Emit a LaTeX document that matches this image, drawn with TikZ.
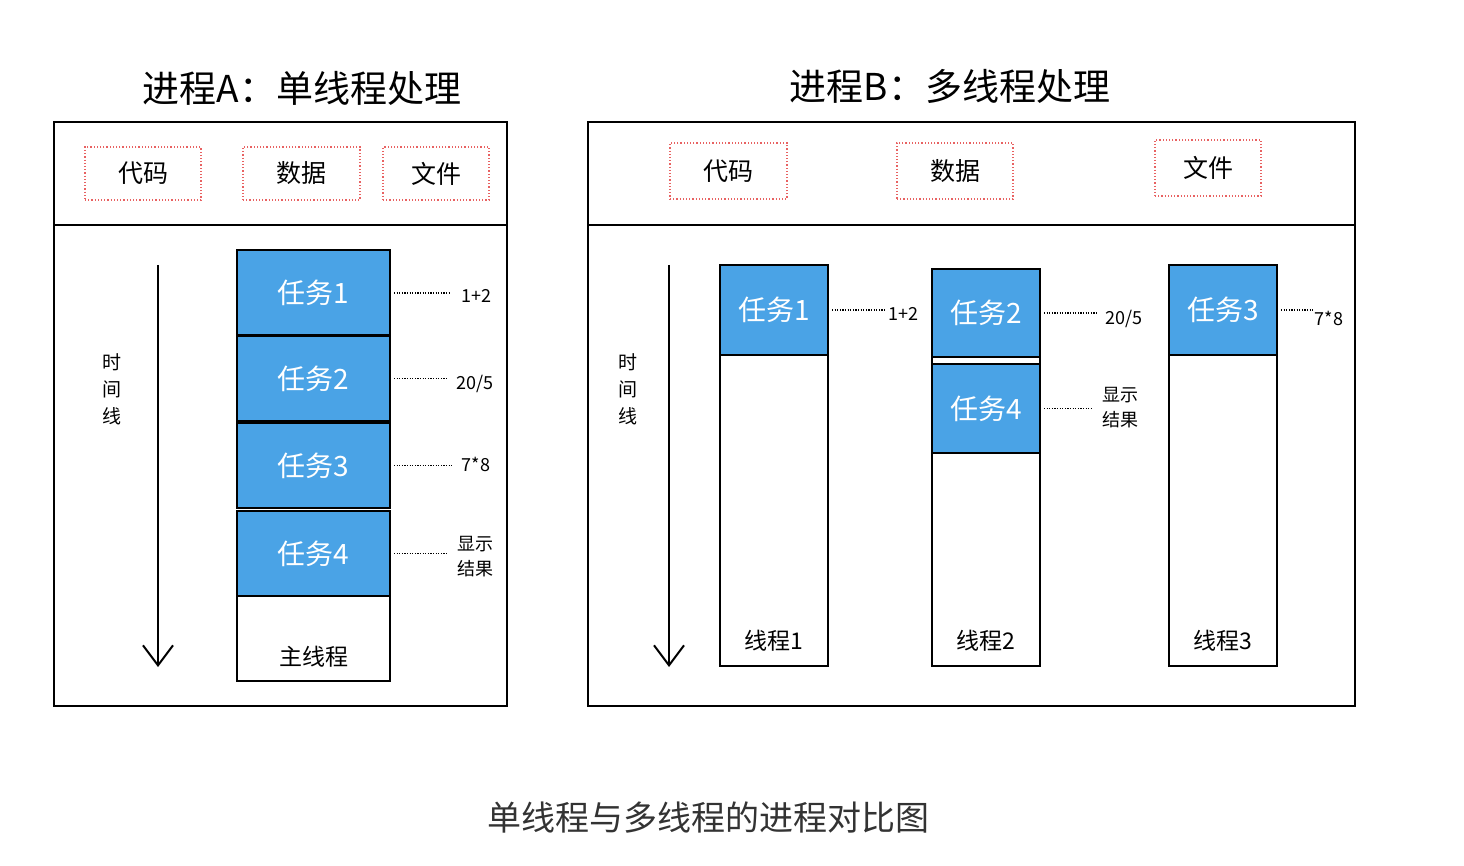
\documentclass[tikz,border=0pt]{standalone}
\usepackage{fontspec}
\setmainfont{Noto Sans CJK SC}
\usetikzlibrary{arrows.meta,positioning,calc}
\definecolor{taskblue}{RGB}{74,163,230}
\definecolor{resred}{RGB}{232,98,98}
\definecolor{captiongray}{RGB}{51,51,51}

\begin{document}
\begin{tikzpicture}[x=1pt,y=-1pt,
  frame/.style={draw,line width=2.5pt},
  res/.style={draw=resred,dotted,line width=1.2pt,inner sep=0pt,minimum height=53pt,font=\fontsize{25}{28}\selectfont},
  task/.style={draw,line width=2pt,fill=taskblue,text=white,inner sep=0pt,minimum width=153pt,minimum height=85pt,font=\fontsize{28}{30}\selectfont},
  thread/.style={draw,line width=2pt,fill=white,inner sep=0pt,minimum width=108pt},
  tlabel/.style={font=\fontsize{23}{26}\selectfont},
  note/.style={font=\fontsize{18}{25}\selectfont,align=center,inner sep=0pt},
  leader/.style={line width=1.5pt,dash pattern=on 1.2pt off 1.4pt,shorten <=3pt,shorten >=#1},
  leader/.default=8pt,
  timeline/.style={line width=2.5pt,-{Straight Barb[length=20pt,width=30pt,line width=2pt]}}]
  \useasboundingbox (0,0) rectangle (1464,866);

  % process A
  \node[font=\fontsize{37}{40}\selectfont] (titlea) at (302,88) {进程A：单线程处理};
  \draw[frame] (54,122) rectangle (507,706);
  \draw[frame] (54,225) -- (507,225);
  \node[res,minimum width=116pt] (codea) at (143,173.5) {代码};
  \node[res,minimum width=117pt] (dataa) at (301.5,173.5) {数据};
  \node[res,minimum width=106pt] (filea) at (436,173.5) {文件};

  \node[note,font=\fontsize{19}{27}\selectfont] (timea) at (112,389) {时\\间\\线};
  \coordinate (ta0) at (158,265);
  \coordinate (ta1) at (158,667);
  \draw[timeline] (ta0) -- (ta1);

  \foreach \i/\y in {1/293,2/378.5,3/465.5,4/553.5}
    \node[task] (a\i) at (313.5,\y) {任务\i};
  \node[task,fill=white] (amain) at (313.5,638.5) {};
  \node[tlabel] (mainlbl) at (313.5,657) {主线程};

  \node[note] (la1) at (476,296) {1+2};
  \node[note] (la2) at (475,384) {20/5};
  \node[note] (la3) at (476,464) {7*8};
  \node[note] (la4) at (475,557) {显示\\结果};
  \draw[leader=10pt] (a1.east) -- (a1.east -| la1.west);
  \draw[leader=8pt] (a2.east) -- (a2.east -| la2.west);
  \draw[leader=10pt] (a3.east) -- (a3.east -| la3.west);
  \draw[leader=10pt] (a4.east) -- (a4.east -| la4.west);

  % process B
  \node[font=\fontsize{37}{40}\selectfont] (titleb) at (950,86) {进程B：多线程处理};
  \draw[frame] (588,122) rectangle (1355,706);
  \draw[frame] (588,225) -- (1355,225);
  \node[res,minimum width=117pt,minimum height=56pt] (codeb) at (728.5,171) {代码};
  \node[res,minimum width=116pt,minimum height=56pt] (datab) at (955,171) {数据};
  \node[res,minimum width=106pt,minimum height=56pt] (fileb) at (1208,168) {文件};

  \node[note,font=\fontsize{19}{27}\selectfont] (timeb) at (628,389) {时\\间\\线};
  \coordinate (tb0) at (669,265);
  \coordinate (tb1) at (669,667);
  \draw[timeline] (tb0) -- (tb1);

  \node[thread,minimum height=401pt] (th1) at (774,465.5) {};
  \node[thread,minimum height=397pt] (th2) at (986,467.5) {};
  \node[thread,minimum height=401pt] (th3) at (1223,465.5) {};
  \node[task,minimum width=108pt,minimum height=90pt,anchor=north] (b1) at (th1.north) {任务1};
  \node[task,minimum width=108pt,minimum height=88pt,anchor=north] (b2) at (th2.north) {任务2};
  \node[task,minimum width=108pt,minimum height=89pt,below=5pt of b2] (b4) {任务4};
  \node[task,minimum width=108pt,minimum height=90pt,anchor=north] (b3) at (th3.north) {任务3};
  \node[tlabel] (n1) at (774,641) {线程1};
  \node[tlabel] (n2) at (986,641) {线程2};
  \node[tlabel] (n3) at (1223,641) {线程3};

  \node[note] (lb1) at (903,314) {1+2};
  \node[note] (lb2) at (1124,319) {20/5};
  \node[note] (lb4) at (1120,408) {显示\\结果};
  \node[note] (lb3) at (1329,318) {7*8};
  \draw[leader=2pt] (b1.east) -- (b1.east -| lb1.west);
  \draw[leader=8pt] (b2.east) -- (b2.east -| lb2.west);
  \draw[leader=10pt] (b4.east) -- (b4.east -| lb4.west);
  \draw[leader=1pt] (b3.east) -- (b3.east -| lb3.west);

  \node[text=captiongray,font=\fontsize{34}{38}\selectfont] (caption) at (708,818) {单线程与多线程的进程对比图};
\end{tikzpicture}
\end{document}
